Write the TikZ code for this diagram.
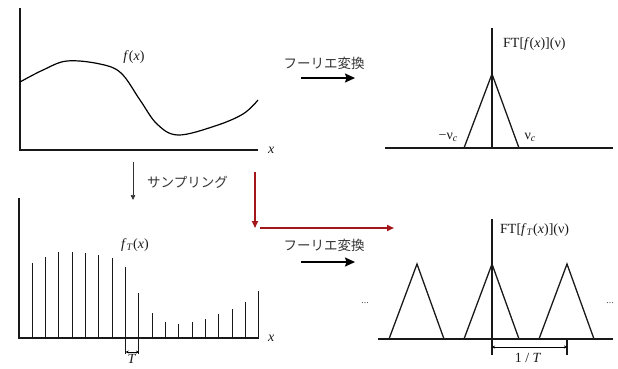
\documentclass[tikz,border=0pt]{standalone}
\usepackage{fontspec}
\setmainfont{Liberation Serif}
\newfontfamily\jpfont{Noto Sans CJK JP}
\usetikzlibrary{arrows.meta}
\definecolor{dred}{HTML}{A3161A}
\begin{document}
\begin{tikzpicture}[x=1bp,y=-1bp,
  axis/.style={line width=1.3bp, draw=black!90},
  stem/.style={line width=1bp, draw=black!90},
  lab/.style={font=\fontsize{14bp}{16bp}\selectfont, inner sep=0pt, text=black!90},
  jlab/.style={font=\jpfont\fontsize{13.5bp}{16bp}\selectfont, inner sep=0pt, text=black!80},
  dotlab/.style={font=\fontsize{10bp}{12bp}\selectfont, inner sep=0pt, text=black!70},
  ftarrow/.style={line width=1.5bp, -{Stealth[length=10bp,width=9bp,inset=1.5bp]}},
  smarrow/.style={line width=0.7bp, draw=black!80, -{Triangle[length=5bp,width=4.5bp]}},
  redarrow/.style={draw=dred, line width=1.6bp, -{Triangle[length=7bp,width=6bp]}},
  tinyarrow/.style={line width=0.6bp, {Stealth[length=3bp,width=3bp]}-{Stealth[length=3bp,width=3bp]}},
  brarrow/.style={line width=0.8bp, {Stealth[length=3bp,width=3bp]}-{Stealth[length=3bp,width=3bp]}}
]
\useasboundingbox (0,0) rectangle (618,368);

% ---------- top left: f(x)
\coordinate (o1) at (20,150);
\coordinate (y1) at (20,8);
\coordinate (x1) at (258,150);
\draw[axis] (y1) -- (o1) -- (x1);
\node[lab, anchor=west] (xl1) at (268,150) {\textit{x}};
\draw[line width=1.2bp] plot[smooth, tension=0.6] coordinates {
 (20,82) (43,70) (67,61) (100,64) (121,73) (140,100) (157,124) (178,135) (215,126) (243,114) (258,100)};
\node[lab] (fx) at (134,57) {\textit{f}(\textit{x})};

% ---------- top right: FT[f(x)]
\coordinate (o2) at (492,148);
\coordinate (y2) at (492,28);
\coordinate (xa2) at (385,148);
\coordinate (xb2) at (613,148);
\draw[axis] (xa2) -- (xb2);
\draw[axis] (o2) -- (y2);
\coordinate (t0a) at (464,148);
\coordinate (t0p) at (492,74);
\coordinate (t0b) at (519,148);
\draw[axis] (t0a) -- (t0p) -- (t0b);
\node[lab, anchor=west] (ft1) at (503,44) {FT[\textit{f}(\textit{x})](ν)};
\node[lab] (nuc1) at (448,137) {−ν\raisebox{-0.35ex}{\fontsize{10bp}{11bp}\selectfont\textit{c}}};
\node[lab] (nuc2) at (530,137) {ν\raisebox{-0.35ex}{\fontsize{10bp}{11bp}\selectfont\textit{c}}};

% ---------- Fourier arrows
\node[jlab] (fl1) at (324,63) {フーリエ変換};
\coordinate (fa1s) at (301,78);
\coordinate (fa1e) at (355,78);
\draw[ftarrow] (fa1s) -- (fa1e);

\node[jlab] (fl2) at (324,245) {フーリエ変換};
\coordinate (fa2s) at (301,262);
\coordinate (fa2e) at (355,262);
\draw[ftarrow] (fa2s) -- (fa2e);

% ---------- sampling arrow
\coordinate (s1) at (133,162);
\coordinate (s2) at (133,200);
\draw[smarrow] (s1) -- (s2);
\node[jlab, anchor=west] (samp) at (147,182) {サンプリング};

% ---------- red arrows
\coordinate (r1) at (255,172);
\coordinate (r2) at (255,228);
\draw[redarrow] (r1) -- (r2);
\coordinate (r3) at (260,228);
\coordinate (r4) at (394,228);
\draw[redarrow] (r3) -- (r4);

% ---------- bottom left: sampled
\coordinate (o3) at (19,338);
\coordinate (y3) at (19,198);
\coordinate (x3) at (259,338);
\draw[axis] (y3) -- (o3) -- (x3);
\node[lab, anchor=west] (xl3) at (268,338) {\textit{x}};
\foreach \k/\h in {1/263,2/257,3/252,4/252,5/253,6/255,7/258,10/313,11/322,12/324,13/322,14/319,15/314,16/309,17/302,18/291}{
  \draw[stem] ({19+13.33*\k},338) -- ({19+13.33*\k},\h);
}
\coordinate (k8b) at ({19+13.33*8},354);
\coordinate (k8t) at ({19+13.33*8},267);
\coordinate (k9b) at ({19+13.33*9},354);
\coordinate (k9t) at ({19+13.33*9},293);
\draw[stem] (k8b) -- (k8t);
\draw[stem] (k9b) -- (k9t);
\draw[tinyarrow] ([yshift=2bp]k8b) -- ([yshift=2bp]k9b);
\node[lab] (Tl) at (132,359) {\textit{T}};
\node[lab] (fTx) at (135,245) {\textit{f}\textsubscript{\textit{T}}(\textit{x})};

% ---------- bottom right: FT[f_T(x)]
\coordinate (o4) at (492,339);
\coordinate (y4t) at (492,219);
\coordinate (y4b) at (492,355);
\coordinate (xa4) at (378,339);
\coordinate (xb4) at (613,339);
\draw[axis] (xa4) -- (xb4);
\draw[axis] (y4b) -- (y4t);
\foreach \c in {417,492,567}{
  \draw[axis] ({\c-28},339) -- (\c,264) -- ({\c+27},339);
}
\coordinate (br1) at (567,339);
\coordinate (br2) at (567,355);
\draw[axis] (br1) -- (br2);
\coordinate (ba) at (492,347);
\coordinate (bb) at (567,347);
\draw[brarrow] (ba) -- (bb);
\node[lab] (invT) at (528,358) {1 / \textit{T}};
\node[lab, anchor=west] (ft2) at (500,230) {FT[\textit{f}\textsubscript{\textit{T}}(\textit{x})](ν)};
\node[dotlab] (d1) at (365,303) {...};
\node[dotlab] (d2) at (610,303) {...};
\end{tikzpicture}
\end{document}
